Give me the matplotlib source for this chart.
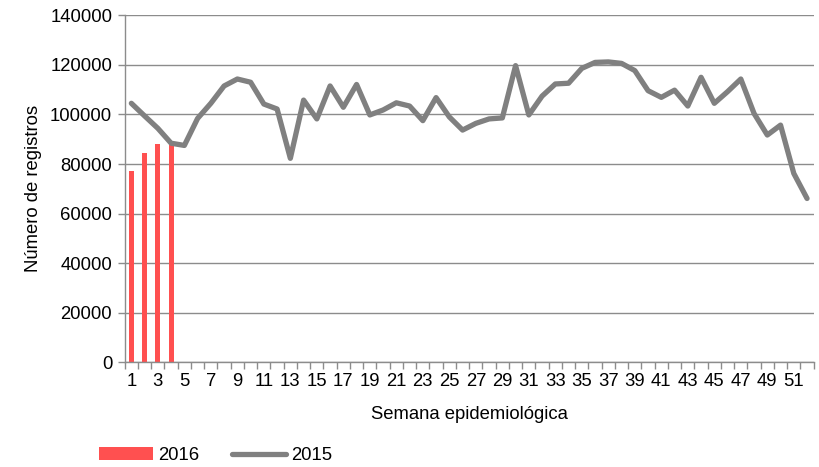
import numpy as np
import matplotlib.pyplot as plt

plt.rcParams['font.family'] = ['Liberation Sans', 'DejaVu Sans']

semanas = np.arange(1, 53)
casos_2015 = [104500, 99400, 94400, 88400, 87500, 98400, 104500, 111500, 114300, 113000,
              104200, 102200, 82300, 105800, 98200, 111500, 102900, 112100, 99800, 101800,
              104700, 103400, 97500, 106800, 99000, 93700, 96400, 98200, 98600, 119700,
              99800, 107400, 112300, 112600, 118600, 121000, 121200, 120600, 117700, 109600,
              106900, 109800, 103400, 115000, 104500, 109200, 114300, 100400, 91700, 95700,
              76200, 66100]
semanas_2016 = np.arange(1, 5)
casos_2016 = [77200, 84500, 88100, 87700]

cor_2016 = '#ff5050'
cor_2015 = '#808080'
cor_eixo = '#8c8c8c'
fs = 13.3

fig = plt.figure(figsize=(8.19, 4.67), dpi=100)
ax = fig.add_axes([0.1523, 0.2242, 0.8412, 0.743])

barras = ax.bar(semanas_2016, casos_2016, width=0.38, color=cor_2016, label='2016', zorder=2)
linha, = ax.plot(semanas, casos_2015, color=cor_2015, lw=3.8, label='2015', zorder=3,
                 solid_joinstyle='round', solid_capstyle='round')

ax.set_xlim(0.5, 52.5)
ax.set_ylim(0, 140000)
ax.set_yticks(np.arange(0, 140001, 20000))
ax.yaxis.grid(True, color=cor_eixo, lw=1)
ax.set_axisbelow(True)

# ticks nas divisas das categorias, rotulos so nas semanas impares
ax.set_xticks(np.arange(0.5, 53, 1))
ax.set_xticklabels([])
ax.set_xticks(np.arange(1, 53, 2), minor=True)
ax.set_xticklabels([str(s) for s in np.arange(1, 53, 2)], minor=True)
ax.tick_params(axis='x', which='major', length=5, color=cor_eixo, width=1)
ax.tick_params(axis='x', which='minor', length=0, pad=7.5, labelsize=fs)
ax.tick_params(axis='y', length=5, color=cor_eixo, width=1, labelsize=fs, pad=4)

for s in ['top', 'right']:
    ax.spines[s].set_visible(False)
for s in ['left', 'bottom']:
    ax.spines[s].set_color(cor_eixo)
    ax.spines[s].set_linewidth(1)

ax.set_xlabel('Semana epidemiológica', fontsize=fs, labelpad=12)
ax.set_ylabel('Número de registros', fontsize=fs, labelpad=6)

fig.legend(handles=[barras, linha], labels=['2016', '2015'], loc='lower left',
           bbox_to_anchor=(0.101, -0.03), ncol=2, frameon=False, fontsize=fs,
           handlelength=2.9, handletextpad=0.28, columnspacing=1.8)

fig.savefig('out.png', dpi=100)
